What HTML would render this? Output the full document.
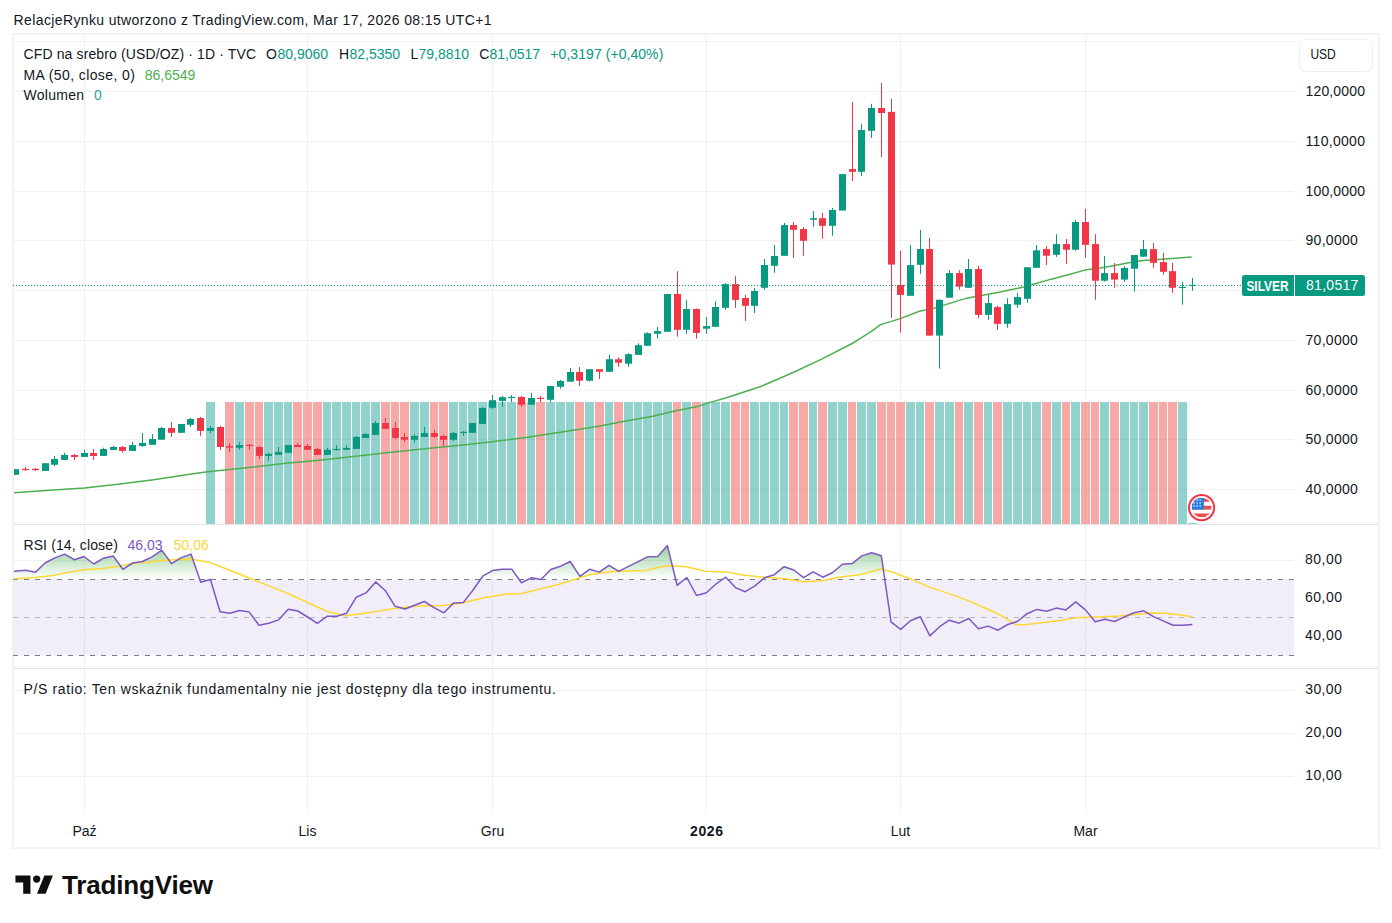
<!DOCTYPE html>
<html><head><meta charset="utf-8"><title>Chart</title>
<style>html,body{margin:0;padding:0;background:#fff;width:1392px;height:923px;overflow:hidden}</style>
</head><body>
<svg width="1392" height="923" viewBox="0 0 1392 923" style="position:absolute;left:0;top:0"><defs><clipPath id="cm"><rect x="14" y="35" width="1280" height="489"/></clipPath><clipPath id="cr"><rect x="14" y="525" width="1280" height="143"/></clipPath><clipPath id="cob"><rect x="14" y="525" width="1280" height="54.200000000000045"/></clipPath><linearGradient id="gob" gradientUnits="userSpaceOnUse" x1="0" y1="522" x2="0" y2="579.2"><stop offset="0" stop-color="#4caf50" stop-opacity="1"/><stop offset="1" stop-color="#4caf50" stop-opacity="0"/></linearGradient></defs><rect x="13" y="34" width="1366" height="814" fill="none" stroke="#f2f2f2" stroke-width="2"/><line x1="84.5" y1="35" x2="84.5" y2="813" stroke="#f0f1f3" stroke-width="1"/><line x1="307.5" y1="35" x2="307.5" y2="813" stroke="#f0f1f3" stroke-width="1"/><line x1="492.5" y1="35" x2="492.5" y2="813" stroke="#f0f1f3" stroke-width="1"/><line x1="706.5" y1="35" x2="706.5" y2="813" stroke="#f0f1f3" stroke-width="1"/><line x1="900.5" y1="35" x2="900.5" y2="813" stroke="#f0f1f3" stroke-width="1"/><line x1="1085.5" y1="35" x2="1085.5" y2="813" stroke="#f0f1f3" stroke-width="1"/><line x1="14" y1="41.5" x2="1294" y2="41.5" stroke="#f0f1f3" stroke-width="1"/><line x1="14" y1="91.5" x2="1294" y2="91.5" stroke="#f0f1f3" stroke-width="1"/><line x1="14" y1="141.5" x2="1294" y2="141.5" stroke="#f0f1f3" stroke-width="1"/><line x1="14" y1="191.5" x2="1294" y2="191.5" stroke="#f0f1f3" stroke-width="1"/><line x1="14" y1="240.5" x2="1294" y2="240.5" stroke="#f0f1f3" stroke-width="1"/><line x1="14" y1="290.5" x2="1294" y2="290.5" stroke="#f0f1f3" stroke-width="1"/><line x1="14" y1="340.5" x2="1294" y2="340.5" stroke="#f0f1f3" stroke-width="1"/><line x1="14" y1="390.5" x2="1294" y2="390.5" stroke="#f0f1f3" stroke-width="1"/><line x1="14" y1="439.5" x2="1294" y2="439.5" stroke="#f0f1f3" stroke-width="1"/><line x1="14" y1="489.5" x2="1294" y2="489.5" stroke="#f0f1f3" stroke-width="1"/><g clip-path="url(#cm)"><rect x="206" y="402" width="9" height="122" fill="rgba(38,166,154,0.5)"/><rect x="225" y="402" width="9" height="122" fill="rgba(239,83,80,0.5)"/><rect x="235" y="402" width="9" height="122" fill="rgba(38,166,154,0.5)"/><rect x="245" y="402" width="9" height="122" fill="rgba(239,83,80,0.5)"/><rect x="255" y="402" width="8" height="122" fill="rgba(239,83,80,0.5)"/><rect x="264" y="402" width="9" height="122" fill="rgba(38,166,154,0.5)"/><rect x="274" y="402" width="9" height="122" fill="rgba(38,166,154,0.5)"/><rect x="284" y="402" width="8" height="122" fill="rgba(38,166,154,0.5)"/><rect x="293" y="402" width="9" height="122" fill="rgba(239,83,80,0.5)"/><rect x="303" y="402" width="9" height="122" fill="rgba(239,83,80,0.5)"/><rect x="313" y="402" width="9" height="122" fill="rgba(239,83,80,0.5)"/><rect x="323" y="402" width="8" height="122" fill="rgba(38,166,154,0.5)"/><rect x="332" y="402" width="9" height="122" fill="rgba(38,166,154,0.5)"/><rect x="342" y="402" width="9" height="122" fill="rgba(38,166,154,0.5)"/><rect x="352" y="402" width="8" height="122" fill="rgba(38,166,154,0.5)"/><rect x="361" y="402" width="9" height="122" fill="rgba(38,166,154,0.5)"/><rect x="371" y="402" width="9" height="122" fill="rgba(38,166,154,0.5)"/><rect x="381" y="402" width="9" height="122" fill="rgba(239,83,80,0.5)"/><rect x="391" y="402" width="8" height="122" fill="rgba(239,83,80,0.5)"/><rect x="400" y="402" width="9" height="122" fill="rgba(239,83,80,0.5)"/><rect x="410" y="402" width="9" height="122" fill="rgba(38,166,154,0.5)"/><rect x="420" y="402" width="9" height="122" fill="rgba(38,166,154,0.5)"/><rect x="430" y="402" width="8" height="122" fill="rgba(239,83,80,0.5)"/><rect x="439" y="402" width="9" height="122" fill="rgba(239,83,80,0.5)"/><rect x="449" y="402" width="9" height="122" fill="rgba(38,166,154,0.5)"/><rect x="459" y="402" width="8" height="122" fill="rgba(38,166,154,0.5)"/><rect x="468" y="402" width="9" height="122" fill="rgba(38,166,154,0.5)"/><rect x="478" y="402" width="9" height="122" fill="rgba(38,166,154,0.5)"/><rect x="488" y="402" width="9" height="122" fill="rgba(38,166,154,0.5)"/><rect x="498" y="402" width="8" height="122" fill="rgba(38,166,154,0.5)"/><rect x="507" y="402" width="9" height="122" fill="rgba(38,166,154,0.5)"/><rect x="517" y="402" width="9" height="122" fill="rgba(239,83,80,0.5)"/><rect x="527" y="402" width="8" height="122" fill="rgba(38,166,154,0.5)"/><rect x="536" y="402" width="9" height="122" fill="rgba(239,83,80,0.5)"/><rect x="546" y="402" width="9" height="122" fill="rgba(38,166,154,0.5)"/><rect x="556" y="402" width="9" height="122" fill="rgba(38,166,154,0.5)"/><rect x="566" y="402" width="8" height="122" fill="rgba(38,166,154,0.5)"/><rect x="575" y="402" width="9" height="122" fill="rgba(239,83,80,0.5)"/><rect x="585" y="402" width="9" height="122" fill="rgba(38,166,154,0.5)"/><rect x="595" y="402" width="9" height="122" fill="rgba(239,83,80,0.5)"/><rect x="605" y="402" width="8" height="122" fill="rgba(38,166,154,0.5)"/><rect x="614" y="402" width="9" height="122" fill="rgba(239,83,80,0.5)"/><rect x="624" y="402" width="9" height="122" fill="rgba(38,166,154,0.5)"/><rect x="634" y="402" width="8" height="122" fill="rgba(38,166,154,0.5)"/><rect x="643" y="402" width="9" height="122" fill="rgba(38,166,154,0.5)"/><rect x="653" y="402" width="9" height="122" fill="rgba(38,166,154,0.5)"/><rect x="663" y="402" width="9" height="122" fill="rgba(38,166,154,0.5)"/><rect x="673" y="402" width="8" height="122" fill="rgba(239,83,80,0.5)"/><rect x="682" y="402" width="9" height="122" fill="rgba(38,166,154,0.5)"/><rect x="692" y="402" width="9" height="122" fill="rgba(239,83,80,0.5)"/><rect x="702" y="402" width="8" height="122" fill="rgba(38,166,154,0.5)"/><rect x="711" y="402" width="9" height="122" fill="rgba(38,166,154,0.5)"/><rect x="721" y="402" width="9" height="122" fill="rgba(38,166,154,0.5)"/><rect x="731" y="402" width="9" height="122" fill="rgba(239,83,80,0.5)"/><rect x="741" y="402" width="8" height="122" fill="rgba(239,83,80,0.5)"/><rect x="750" y="402" width="9" height="122" fill="rgba(38,166,154,0.5)"/><rect x="760" y="402" width="9" height="122" fill="rgba(38,166,154,0.5)"/><rect x="770" y="402" width="9" height="122" fill="rgba(38,166,154,0.5)"/><rect x="780" y="402" width="8" height="122" fill="rgba(38,166,154,0.5)"/><rect x="789" y="402" width="9" height="122" fill="rgba(239,83,80,0.5)"/><rect x="799" y="402" width="9" height="122" fill="rgba(239,83,80,0.5)"/><rect x="809" y="402" width="8" height="122" fill="rgba(38,166,154,0.5)"/><rect x="818" y="402" width="9" height="122" fill="rgba(239,83,80,0.5)"/><rect x="828" y="402" width="9" height="122" fill="rgba(38,166,154,0.5)"/><rect x="838" y="402" width="9" height="122" fill="rgba(38,166,154,0.5)"/><rect x="848" y="402" width="8" height="122" fill="rgba(239,83,80,0.5)"/><rect x="857" y="402" width="9" height="122" fill="rgba(38,166,154,0.5)"/><rect x="867" y="402" width="9" height="122" fill="rgba(38,166,154,0.5)"/><rect x="877" y="402" width="9" height="122" fill="rgba(239,83,80,0.5)"/><rect x="887" y="402" width="8" height="122" fill="rgba(239,83,80,0.5)"/><rect x="896" y="402" width="9" height="122" fill="rgba(239,83,80,0.5)"/><rect x="906" y="402" width="9" height="122" fill="rgba(38,166,154,0.5)"/><rect x="916" y="402" width="8" height="122" fill="rgba(38,166,154,0.5)"/><rect x="925" y="402" width="9" height="122" fill="rgba(239,83,80,0.5)"/><rect x="935" y="402" width="9" height="122" fill="rgba(38,166,154,0.5)"/><rect x="945" y="402" width="9" height="122" fill="rgba(38,166,154,0.5)"/><rect x="955" y="402" width="8" height="122" fill="rgba(239,83,80,0.5)"/><rect x="964" y="402" width="9" height="122" fill="rgba(38,166,154,0.5)"/><rect x="974" y="402" width="9" height="122" fill="rgba(239,83,80,0.5)"/><rect x="984" y="402" width="8" height="122" fill="rgba(38,166,154,0.5)"/><rect x="993" y="402" width="9" height="122" fill="rgba(239,83,80,0.5)"/><rect x="1003" y="402" width="9" height="122" fill="rgba(38,166,154,0.5)"/><rect x="1013" y="402" width="9" height="122" fill="rgba(38,166,154,0.5)"/><rect x="1023" y="402" width="8" height="122" fill="rgba(38,166,154,0.5)"/><rect x="1032" y="402" width="9" height="122" fill="rgba(38,166,154,0.5)"/><rect x="1042" y="402" width="9" height="122" fill="rgba(239,83,80,0.5)"/><rect x="1052" y="402" width="9" height="122" fill="rgba(38,166,154,0.5)"/><rect x="1062" y="402" width="8" height="122" fill="rgba(239,83,80,0.5)"/><rect x="1071" y="402" width="9" height="122" fill="rgba(38,166,154,0.5)"/><rect x="1081" y="402" width="9" height="122" fill="rgba(239,83,80,0.5)"/><rect x="1091" y="402" width="8" height="122" fill="rgba(239,83,80,0.5)"/><rect x="1100" y="402" width="9" height="122" fill="rgba(38,166,154,0.5)"/><rect x="1110" y="402" width="9" height="122" fill="rgba(239,83,80,0.5)"/><rect x="1120" y="402" width="9" height="122" fill="rgba(38,166,154,0.5)"/><rect x="1130" y="402" width="8" height="122" fill="rgba(38,166,154,0.5)"/><rect x="1139" y="402" width="9" height="122" fill="rgba(38,166,154,0.5)"/><rect x="1149" y="402" width="9" height="122" fill="rgba(239,83,80,0.5)"/><rect x="1159" y="402" width="8" height="122" fill="rgba(239,83,80,0.5)"/><rect x="1168" y="402" width="9" height="122" fill="rgba(239,83,80,0.5)"/><rect x="1178" y="402" width="9" height="122" fill="rgba(38,166,154,0.5)"/><rect x="1188" y="523" width="9" height="1" fill="rgba(38,166,154,0.5)"/></g><g clip-path="url(#cm)"><polyline fill="none" stroke="#4caf50" stroke-width="1.5" stroke-linejoin="round" points="13.6,492.9 45.9,490.6 84.5,487.9 117.8,484.3 153.7,479.8 189.6,474.2 207.6,471.7 234.5,469 260,466.3 285.9,463.3 321.8,460 357.8,455.9 393.7,451.9 429.6,448.3 465.5,444.8 490,442 525.9,437.5 561.8,432.1 600,426 623,421.4 651.7,416.6 674.7,411 697.7,406.4 710.3,402.4 726.4,397.8 760,386.7 773.1,381.2 794.7,371.7 821.6,359.1 852.1,343.5 860,338.7 872.1,330.9 880.6,324.6 900.2,318.6 919.3,311.3 925.8,310.1 933,308.6 943.1,305.4 965.2,298.6 974.7,296.8 988.3,294.3 1000,292.1 1023.7,287 1031.6,284.8 1050.3,279.4 1068.2,274.8 1084.8,270.1 1092.7,269 1100,268 1114.4,265.5 1130.2,262.6 1143.1,260.4 1157.5,259.4 1171.8,258.6 1191.6,257.1"/></g><g clip-path="url(#cm)"><rect x="15" y="469.2" width="1" height="5.6" fill="#089981"/><rect x="12" y="469.2" width="7" height="5.6" fill="#089981"/><rect x="25" y="466.9" width="1" height="4.1" fill="#f23645"/><rect x="22" y="468.8" width="7" height="1.3" fill="#f23645"/><rect x="35" y="468.0" width="1" height="3.0" fill="#f23645"/><rect x="32" y="468.8" width="7" height="1.3" fill="#f23645"/><rect x="45" y="463.2" width="1" height="7.8" fill="#089981"/><rect x="42" y="463.2" width="7" height="7.8" fill="#089981"/><rect x="54" y="456.0" width="1" height="10.0" fill="#089981"/><rect x="51" y="459.0" width="7" height="5.7" fill="#089981"/><rect x="64" y="452.8" width="1" height="7.1" fill="#089981"/><rect x="61" y="455.0" width="7" height="4.9" fill="#089981"/><rect x="74" y="454.0" width="1" height="6.0" fill="#f23645"/><rect x="71" y="455.0" width="7" height="2.0" fill="#f23645"/><rect x="84" y="449.8" width="1" height="7.1" fill="#089981"/><rect x="81" y="453.0" width="7" height="3.9" fill="#089981"/><rect x="93" y="449.0" width="1" height="11.0" fill="#f23645"/><rect x="90" y="453.0" width="7" height="3.0" fill="#f23645"/><rect x="103" y="447.7" width="1" height="8.2" fill="#089981"/><rect x="100" y="449.0" width="7" height="6.9" fill="#089981"/><rect x="113" y="446.0" width="1" height="4.0" fill="#089981"/><rect x="110" y="447.0" width="7" height="3.0" fill="#089981"/><rect x="122" y="446.0" width="1" height="6.8" fill="#f23645"/><rect x="119" y="447.0" width="7" height="3.9" fill="#f23645"/><rect x="132" y="441.9" width="1" height="9.0" fill="#089981"/><rect x="129" y="445.1" width="7" height="5.8" fill="#089981"/><rect x="142" y="433.0" width="1" height="14.0" fill="#089981"/><rect x="139" y="442.9" width="7" height="3.1" fill="#089981"/><rect x="152" y="434.0" width="1" height="10.8" fill="#089981"/><rect x="149" y="439.0" width="7" height="5.8" fill="#089981"/><rect x="161" y="427.0" width="1" height="12.7" fill="#089981"/><rect x="158" y="428.0" width="7" height="11.7" fill="#089981"/><rect x="171" y="422.0" width="1" height="14.9" fill="#f23645"/><rect x="168" y="428.0" width="7" height="4.8" fill="#f23645"/><rect x="181" y="424.0" width="1" height="8.8" fill="#089981"/><rect x="178" y="424.0" width="7" height="8.8" fill="#089981"/><rect x="190" y="418.0" width="1" height="9.0" fill="#089981"/><rect x="187" y="419.0" width="7" height="5.8" fill="#089981"/><rect x="200" y="417.0" width="1" height="18.9" fill="#f23645"/><rect x="197" y="418.0" width="7" height="12.9" fill="#f23645"/><rect x="210" y="426.0" width="1" height="7.0" fill="#089981"/><rect x="207" y="428.0" width="7" height="2.9" fill="#089981"/><rect x="220" y="426.0" width="1" height="23.8" fill="#f23645"/><rect x="217" y="427.0" width="7" height="20.0" fill="#f23645"/><rect x="229" y="443.0" width="1" height="9.0" fill="#f23645"/><rect x="226" y="446.2" width="7" height="1.5" fill="#f23645"/><rect x="239" y="442.0" width="1" height="7.8" fill="#089981"/><rect x="236" y="445.0" width="7" height="2.8" fill="#089981"/><rect x="249" y="444.0" width="1" height="5.8" fill="#f23645"/><rect x="246" y="444.8" width="7" height="1.2" fill="#f23645"/><rect x="259" y="446.1" width="1" height="12.8" fill="#f23645"/><rect x="256" y="447.0" width="7" height="8.9" fill="#f23645"/><rect x="268" y="453.0" width="1" height="7.8" fill="#089981"/><rect x="265" y="453.9" width="7" height="2.0" fill="#089981"/><rect x="278" y="447.0" width="1" height="7.9" fill="#089981"/><rect x="275" y="451.9" width="7" height="3.0" fill="#089981"/><rect x="288" y="445.0" width="1" height="7.8" fill="#089981"/><rect x="285" y="445.0" width="7" height="7.8" fill="#089981"/><rect x="297" y="443.0" width="1" height="4.0" fill="#f23645"/><rect x="294" y="445.0" width="7" height="2.0" fill="#f23645"/><rect x="307" y="444.0" width="1" height="5.8" fill="#f23645"/><rect x="304" y="446.0" width="7" height="3.8" fill="#f23645"/><rect x="317" y="448.0" width="1" height="6.9" fill="#f23645"/><rect x="314" y="449.0" width="7" height="5.9" fill="#f23645"/><rect x="327" y="447.8" width="1" height="7.1" fill="#089981"/><rect x="324" y="449.8" width="7" height="5.1" fill="#089981"/><rect x="336" y="445.0" width="1" height="5.9" fill="#089981"/><rect x="333" y="448.9" width="7" height="1.2" fill="#089981"/><rect x="346" y="445.0" width="1" height="4.8" fill="#089981"/><rect x="343" y="448.0" width="7" height="1.8" fill="#089981"/><rect x="356" y="436.0" width="1" height="13.0" fill="#089981"/><rect x="353" y="437.0" width="7" height="12.0" fill="#089981"/><rect x="365" y="433.0" width="1" height="4.9" fill="#089981"/><rect x="362" y="434.0" width="7" height="3.9" fill="#089981"/><rect x="375" y="421.0" width="1" height="13.9" fill="#089981"/><rect x="372" y="423.0" width="7" height="11.9" fill="#089981"/><rect x="385" y="418.0" width="1" height="10.9" fill="#f23645"/><rect x="382" y="423.0" width="7" height="5.9" fill="#f23645"/><rect x="395" y="422.0" width="1" height="17.0" fill="#f23645"/><rect x="392" y="428.0" width="7" height="9.9" fill="#f23645"/><rect x="404" y="433.0" width="1" height="9.0" fill="#f23645"/><rect x="401" y="437.0" width="7" height="2.8" fill="#f23645"/><rect x="414" y="434.0" width="1" height="8.8" fill="#089981"/><rect x="411" y="436.0" width="7" height="3.8" fill="#089981"/><rect x="424" y="427.0" width="1" height="9.9" fill="#089981"/><rect x="421" y="433.0" width="7" height="3.9" fill="#089981"/><rect x="434" y="430.0" width="1" height="7.9" fill="#f23645"/><rect x="431" y="433.0" width="7" height="3.9" fill="#f23645"/><rect x="443" y="434.9" width="1" height="11.0" fill="#f23645"/><rect x="440" y="436.0" width="7" height="3.8" fill="#f23645"/><rect x="453" y="432.0" width="1" height="9.0" fill="#089981"/><rect x="450" y="433.0" width="7" height="6.8" fill="#089981"/><rect x="463" y="431.0" width="1" height="4.8" fill="#089981"/><rect x="460" y="431.8" width="7" height="1.2" fill="#089981"/><rect x="472" y="423.0" width="1" height="9.8" fill="#089981"/><rect x="469" y="423.0" width="7" height="9.8" fill="#089981"/><rect x="482" y="406.9" width="1" height="17.0" fill="#089981"/><rect x="479" y="408.0" width="7" height="15.9" fill="#089981"/><rect x="492" y="395.0" width="1" height="13.8" fill="#089981"/><rect x="489" y="400.2" width="7" height="7.6" fill="#089981"/><rect x="502" y="396.0" width="1" height="10.9" fill="#089981"/><rect x="499" y="397.2" width="7" height="3.7" fill="#089981"/><rect x="511" y="395.0" width="1" height="7.0" fill="#089981"/><rect x="508" y="396.9" width="7" height="1.2" fill="#089981"/><rect x="521" y="396.0" width="1" height="10.9" fill="#f23645"/><rect x="518" y="397.0" width="7" height="7.7" fill="#f23645"/><rect x="531" y="393.0" width="1" height="11.7" fill="#089981"/><rect x="528" y="398.0" width="7" height="6.7" fill="#089981"/><rect x="540" y="396.0" width="1" height="6.0" fill="#f23645"/><rect x="537" y="397.8" width="7" height="1.2" fill="#f23645"/><rect x="550" y="386.0" width="1" height="16.0" fill="#089981"/><rect x="547" y="386.0" width="7" height="13.8" fill="#089981"/><rect x="560" y="380.0" width="1" height="8.7" fill="#089981"/><rect x="557" y="381.0" width="7" height="5.8" fill="#089981"/><rect x="570" y="368.0" width="1" height="13.7" fill="#089981"/><rect x="567" y="372.0" width="7" height="9.7" fill="#089981"/><rect x="579" y="367.0" width="1" height="18.9" fill="#f23645"/><rect x="576" y="372.0" width="7" height="8.7" fill="#f23645"/><rect x="589" y="369.2" width="1" height="12.5" fill="#089981"/><rect x="586" y="369.2" width="7" height="11.5" fill="#089981"/><rect x="599" y="369.2" width="1" height="9.8" fill="#f23645"/><rect x="596" y="369.2" width="7" height="2.6" fill="#f23645"/><rect x="609" y="355.0" width="1" height="16.8" fill="#089981"/><rect x="606" y="359.2" width="7" height="12.6" fill="#089981"/><rect x="618" y="357.2" width="1" height="9.6" fill="#f23645"/><rect x="615" y="359.2" width="7" height="3.5" fill="#f23645"/><rect x="628" y="353.1" width="1" height="13.7" fill="#089981"/><rect x="625" y="354.2" width="7" height="9.5" fill="#089981"/><rect x="638" y="343.2" width="1" height="11.7" fill="#089981"/><rect x="635" y="345.2" width="7" height="9.7" fill="#089981"/><rect x="647" y="332.2" width="1" height="13.6" fill="#089981"/><rect x="644" y="333.2" width="7" height="12.6" fill="#089981"/><rect x="657" y="327.0" width="1" height="11.7" fill="#089981"/><rect x="654" y="331.1" width="7" height="2.7" fill="#089981"/><rect x="667" y="294.0" width="1" height="37.8" fill="#089981"/><rect x="664" y="294.0" width="7" height="37.8" fill="#089981"/><rect x="677" y="271.1" width="1" height="65.6" fill="#f23645"/><rect x="674" y="294.0" width="7" height="35.8" fill="#f23645"/><rect x="686" y="300.1" width="1" height="33.8" fill="#089981"/><rect x="683" y="309.0" width="7" height="20.8" fill="#089981"/><rect x="696" y="308.4" width="1" height="30.3" fill="#f23645"/><rect x="693" y="309.0" width="7" height="23.9" fill="#f23645"/><rect x="706" y="317.0" width="1" height="16.9" fill="#089981"/><rect x="703" y="326.1" width="7" height="2.6" fill="#089981"/><rect x="715" y="301.2" width="1" height="25.6" fill="#089981"/><rect x="712" y="307.0" width="7" height="19.8" fill="#089981"/><rect x="725" y="283.2" width="1" height="26.6" fill="#089981"/><rect x="722" y="284.1" width="7" height="23.7" fill="#089981"/><rect x="735" y="275.9" width="1" height="32.0" fill="#f23645"/><rect x="732" y="284.1" width="7" height="15.8" fill="#f23645"/><rect x="745" y="294.9" width="1" height="26.0" fill="#f23645"/><rect x="742" y="298.0" width="7" height="7.8" fill="#f23645"/><rect x="754" y="288.0" width="1" height="25.0" fill="#089981"/><rect x="751" y="291.0" width="7" height="14.8" fill="#089981"/><rect x="764" y="259.0" width="1" height="30.7" fill="#089981"/><rect x="761" y="265.0" width="7" height="22.8" fill="#089981"/><rect x="774" y="245.0" width="1" height="27.8" fill="#089981"/><rect x="771" y="256.0" width="7" height="9.8" fill="#089981"/><rect x="784" y="223.0" width="1" height="32.8" fill="#089981"/><rect x="781" y="225.1" width="7" height="30.7" fill="#089981"/><rect x="793" y="222.0" width="1" height="36.0" fill="#f23645"/><rect x="790" y="225.1" width="7" height="4.7" fill="#f23645"/><rect x="803" y="227.1" width="1" height="28.7" fill="#f23645"/><rect x="800" y="229.0" width="7" height="11.8" fill="#f23645"/><rect x="813" y="211.0" width="1" height="15.9" fill="#089981"/><rect x="810" y="218.2" width="7" height="1.6" fill="#089981"/><rect x="822" y="213.0" width="1" height="25.8" fill="#f23645"/><rect x="819" y="218.2" width="7" height="7.6" fill="#f23645"/><rect x="832" y="207.9" width="1" height="27.9" fill="#089981"/><rect x="829" y="210.0" width="7" height="15.8" fill="#089981"/><rect x="842" y="174.1" width="1" height="36.4" fill="#089981"/><rect x="839" y="174.1" width="7" height="36.4" fill="#089981"/><rect x="852" y="102.0" width="1" height="78.9" fill="#f23645"/><rect x="849" y="169.1" width="7" height="2.7" fill="#f23645"/><rect x="861" y="123.9" width="1" height="52.0" fill="#089981"/><rect x="858" y="130.0" width="7" height="41.8" fill="#089981"/><rect x="871" y="103.8" width="1" height="34.2" fill="#089981"/><rect x="868" y="108.0" width="7" height="22.8" fill="#089981"/><rect x="881" y="82.9" width="1" height="74.1" fill="#f23645"/><rect x="878" y="108.0" width="7" height="5.0" fill="#f23645"/><rect x="891" y="98.8" width="1" height="219.0" fill="#f23645"/><rect x="888" y="111.9" width="7" height="152.7" fill="#f23645"/><rect x="900" y="250.7" width="1" height="82.0" fill="#f23645"/><rect x="897" y="284.9" width="7" height="10.0" fill="#f23645"/><rect x="910" y="245.0" width="1" height="50.8" fill="#089981"/><rect x="907" y="265.1" width="7" height="30.7" fill="#089981"/><rect x="920" y="229.9" width="1" height="43.9" fill="#089981"/><rect x="917" y="249.0" width="7" height="15.8" fill="#089981"/><rect x="929" y="237.7" width="1" height="97.9" fill="#f23645"/><rect x="926" y="249.0" width="7" height="86.6" fill="#f23645"/><rect x="939" y="299.3" width="1" height="69.3" fill="#089981"/><rect x="936" y="299.8" width="7" height="35.8" fill="#089981"/><rect x="949" y="270.2" width="1" height="27.5" fill="#089981"/><rect x="946" y="273.1" width="7" height="24.6" fill="#089981"/><rect x="959" y="270.2" width="1" height="19.4" fill="#f23645"/><rect x="956" y="273.1" width="7" height="13.5" fill="#f23645"/><rect x="968" y="259.0" width="1" height="28.8" fill="#089981"/><rect x="965" y="269.0" width="7" height="18.8" fill="#089981"/><rect x="978" y="266.0" width="1" height="52.0" fill="#f23645"/><rect x="975" y="269.0" width="7" height="45.9" fill="#f23645"/><rect x="988" y="294.4" width="1" height="25.6" fill="#089981"/><rect x="985" y="303.1" width="7" height="11.8" fill="#089981"/><rect x="997" y="305.9" width="1" height="23.9" fill="#f23645"/><rect x="994" y="307.1" width="7" height="16.7" fill="#f23645"/><rect x="1007" y="298.2" width="1" height="29.5" fill="#089981"/><rect x="1004" y="304.1" width="7" height="19.7" fill="#089981"/><rect x="1017" y="293.2" width="1" height="14.5" fill="#089981"/><rect x="1014" y="297.1" width="7" height="7.6" fill="#089981"/><rect x="1027" y="267.2" width="1" height="35.5" fill="#089981"/><rect x="1024" y="267.2" width="7" height="31.6" fill="#089981"/><rect x="1036" y="245.1" width="1" height="22.7" fill="#089981"/><rect x="1033" y="250.3" width="7" height="17.5" fill="#089981"/><rect x="1046" y="246.1" width="1" height="18.9" fill="#f23645"/><rect x="1043" y="249.1" width="7" height="6.6" fill="#f23645"/><rect x="1056" y="234.2" width="1" height="22.7" fill="#089981"/><rect x="1053" y="244.1" width="7" height="10.7" fill="#089981"/><rect x="1066" y="239.0" width="1" height="24.8" fill="#f23645"/><rect x="1063" y="244.1" width="7" height="5.6" fill="#f23645"/><rect x="1075" y="220.0" width="1" height="30.7" fill="#089981"/><rect x="1072" y="222.0" width="7" height="27.7" fill="#089981"/><rect x="1085" y="209.0" width="1" height="48.8" fill="#f23645"/><rect x="1082" y="222.0" width="7" height="22.8" fill="#f23645"/><rect x="1095" y="234.2" width="1" height="65.6" fill="#f23645"/><rect x="1092" y="244.1" width="7" height="36.6" fill="#f23645"/><rect x="1104" y="256.0" width="1" height="25.7" fill="#089981"/><rect x="1101" y="273.1" width="7" height="7.6" fill="#089981"/><rect x="1114" y="263.0" width="1" height="24.8" fill="#f23645"/><rect x="1111" y="273.1" width="7" height="6.5" fill="#f23645"/><rect x="1124" y="266.3" width="1" height="15.6" fill="#089981"/><rect x="1121" y="267.9" width="7" height="11.7" fill="#089981"/><rect x="1134" y="255.0" width="1" height="36.7" fill="#089981"/><rect x="1131" y="255.0" width="7" height="13.7" fill="#089981"/><rect x="1143" y="240.0" width="1" height="16.7" fill="#089981"/><rect x="1140" y="249.1" width="7" height="7.6" fill="#089981"/><rect x="1153" y="243.0" width="1" height="24.9" fill="#f23645"/><rect x="1150" y="249.1" width="7" height="13.7" fill="#f23645"/><rect x="1163" y="253.0" width="1" height="21.8" fill="#f23645"/><rect x="1160" y="262.1" width="7" height="9.7" fill="#f23645"/><rect x="1172" y="262.9" width="1" height="29.9" fill="#f23645"/><rect x="1169" y="271.2" width="7" height="16.6" fill="#f23645"/><rect x="1182" y="282.0" width="1" height="22.7" fill="#089981"/><rect x="1179" y="286.8" width="7" height="1.2" fill="#089981"/><rect x="1192" y="277.9" width="1" height="12.8" fill="#089981"/><rect x="1189" y="284.8" width="7" height="1.2" fill="#089981"/></g><line x1="13" y1="285.5" x2="1242" y2="285.5" stroke="#089981" stroke-width="1" stroke-dasharray="1 2"/><rect x="14" y="524" width="1364" height="1" fill="#e0e3eb"/><rect x="14" y="668" width="1364" height="1" fill="#e0e3eb"/><rect x="14" y="579.2" width="1280" height="76.2" fill="#7e57c2" fill-opacity="0.1"/><line x1="14" y1="560.5" x2="1294" y2="560.5" stroke="#f0f1f3" stroke-width="1"/><line x1="14" y1="598.5" x2="1294" y2="598.5" stroke="#f0f1f3" stroke-width="1"/><line x1="14" y1="636.5" x2="1294" y2="636.5" stroke="#f0f1f3" stroke-width="1"/><line x1="13" y1="579.5" x2="1294" y2="579.5" stroke="#787b86" stroke-width="1" stroke-dasharray="5 6"/><line x1="13" y1="617.5" x2="1294" y2="617.5" stroke="#787b86" stroke-opacity="0.5" stroke-width="1" stroke-dasharray="5 6"/><line x1="13" y1="655.5" x2="1294" y2="655.5" stroke="#787b86" stroke-width="1" stroke-dasharray="5 6"/><g clip-path="url(#cob)"><path d="M13.0,579.2 L13.0,571.4 L25.7,570.3 L35.4,572.3 L45.1,563.0 L54.9,557.9 L64.6,554.1 L74.3,559.7 L84.0,556.5 L93.7,564.0 L103.5,558.2 L113.2,556.0 L122.9,569.3 L132.6,563.0 L142.4,561.5 L152.1,556.8 L161.8,550.1 L171.5,563.6 L181.3,557.6 L191.0,554.1 L200.7,582.3 L210.4,579.5 L220.1,611.7 L229.9,613.2 L239.6,610.5 L249.3,612.1 L259.0,625.3 L268.8,623.2 L278.5,619.9 L288.2,609.2 L297.9,611.0 L307.6,617.0 L317.4,623.4 L327.1,616.3 L336.8,616.3 L346.5,613.3 L356.3,597.2 L366.0,592.9 L375.7,581.9 L385.4,590.7 L395.1,606.3 L404.9,609.0 L414.6,605.3 L424.3,601.5 L434.0,607.7 L443.8,612.8 L453.5,603.1 L463.2,602.6 L472.9,590.2 L482.7,576.2 L492.4,570.6 L502.1,569.2 L511.8,569.2 L521.5,582.8 L531.3,577.8 L541.0,579.4 L550.7,569.5 L560.4,566.3 L570.2,561.5 L579.9,576.4 L589.6,569.3 L599.3,572.1 L609.0,565.3 L618.8,571.3 L628.5,566.4 L638.2,561.6 L647.9,556.7 L657.7,556.4 L667.4,545.6 L677.1,585.3 L686.8,577.5 L696.5,595.5 L706.3,592.8 L716.0,584.0 L725.7,577.2 L735.4,587.6 L745.2,591.7 L754.9,585.8 L764.6,577.7 L774.3,574.7 L784.1,566.7 L793.8,570.0 L803.5,577.7 L813.2,571.8 L822.9,577.2 L832.7,572.5 L842.4,564.2 L852.1,563.6 L861.8,555.9 L871.6,552.8 L881.3,555.7 L891.0,621.8 L900.7,629.4 L910.4,620.7 L920.2,616.7 L929.9,635.9 L939.6,626.7 L949.3,620.2 L959.1,623.2 L968.8,618.5 L978.5,628.8 L988.2,626.1 L998.0,630.2 L1007.7,624.5 L1017.4,621.5 L1027.1,613.7 L1036.8,609.4 L1046.6,611.3 L1056.3,608.1 L1066.0,609.9 L1075.7,601.9 L1085.5,609.9 L1095.2,621.8 L1104.9,619.3 L1114.6,621.5 L1124.3,616.9 L1134.1,612.7 L1143.8,610.8 L1153.5,616.6 L1163.2,620.9 L1173.0,625.3 L1182.7,625.2 L1192.4,624.5 L1192.4,579.2 Z" fill="url(#gob)"/></g><g clip-path="url(#cr)"><polyline fill="none" stroke="#fdd835" stroke-width="1.5" stroke-linejoin="round" points="13.3,578.7 34.9,577.4 53.3,575.4 64.2,573 83.7,569.8 102.1,568.4 118.3,566.5 134.6,563 150,562.2 160.8,560.4 182.5,559.3 193.3,559.5 209.6,562.4 225.8,568.7 252.9,579.5 280,590.4 290,594.3 300,599 326.6,611.2 345.5,615.8 365.4,613.3 397.8,608 419.3,606.1 442.9,605.5 462.3,602.9 483.9,597.7 505.4,594.3 521.6,593.4 537.8,589.6 559.3,584.2 580,577.8 591.6,574.3 613.1,571.5 645.4,570.4 667,565.6 686.4,566.7 705.2,571.3 726.2,572.1 742.3,575 763.9,577.2 785.4,578.8 803.2,581.8 822.1,580.7 839.3,577.2 860.8,574.5 871.7,571.4 881.4,569 893.3,572.5 909.6,578.5 929.1,587.1 947.5,593.1 967,600.1 987.6,609.3 1000,615 1015.9,624.7 1026.6,624.5 1054.7,621.3 1076.2,617.8 1097.8,616.9 1119.3,615.9 1130,615.1 1151.6,613 1165.9,613.3 1180.3,615.1 1191.8,616.7"/><polyline fill="none" stroke="#7e57c2" stroke-width="1.5" stroke-linejoin="round" points="13.0,571.4 25.7,570.3 35.4,572.3 45.1,563.0 54.9,557.9 64.6,554.1 74.3,559.7 84.0,556.5 93.7,564.0 103.5,558.2 113.2,556.0 122.9,569.3 132.6,563.0 142.4,561.5 152.1,556.8 161.8,550.1 171.5,563.6 181.3,557.6 191.0,554.1 200.7,582.3 210.4,579.5 220.1,611.7 229.9,613.2 239.6,610.5 249.3,612.1 259.0,625.3 268.8,623.2 278.5,619.9 288.2,609.2 297.9,611.0 307.6,617.0 317.4,623.4 327.1,616.3 336.8,616.3 346.5,613.3 356.3,597.2 366.0,592.9 375.7,581.9 385.4,590.7 395.1,606.3 404.9,609.0 414.6,605.3 424.3,601.5 434.0,607.7 443.8,612.8 453.5,603.1 463.2,602.6 472.9,590.2 482.7,576.2 492.4,570.6 502.1,569.2 511.8,569.2 521.5,582.8 531.3,577.8 541.0,579.4 550.7,569.5 560.4,566.3 570.2,561.5 579.9,576.4 589.6,569.3 599.3,572.1 609.0,565.3 618.8,571.3 628.5,566.4 638.2,561.6 647.9,556.7 657.7,556.4 667.4,545.6 677.1,585.3 686.8,577.5 696.5,595.5 706.3,592.8 716.0,584.0 725.7,577.2 735.4,587.6 745.2,591.7 754.9,585.8 764.6,577.7 774.3,574.7 784.1,566.7 793.8,570.0 803.5,577.7 813.2,571.8 822.9,577.2 832.7,572.5 842.4,564.2 852.1,563.6 861.8,555.9 871.6,552.8 881.3,555.7 891.0,621.8 900.7,629.4 910.4,620.7 920.2,616.7 929.9,635.9 939.6,626.7 949.3,620.2 959.1,623.2 968.8,618.5 978.5,628.8 988.2,626.1 998.0,630.2 1007.7,624.5 1017.4,621.5 1027.1,613.7 1036.8,609.4 1046.6,611.3 1056.3,608.1 1066.0,609.9 1075.7,601.9 1085.5,609.9 1095.2,621.8 1104.9,619.3 1114.6,621.5 1124.3,616.9 1134.1,612.7 1143.8,610.8 1153.5,616.6 1163.2,620.9 1173.0,625.3 1182.7,625.2 1192.4,624.5"/></g><line x1="14" y1="690.5" x2="1294" y2="690.5" stroke="#f0f1f3" stroke-width="1"/><line x1="14" y1="733.5" x2="1294" y2="733.5" stroke="#f0f1f3" stroke-width="1"/><line x1="14" y1="776.5" x2="1294" y2="776.5" stroke="#f0f1f3" stroke-width="1"/><rect x="1242" y="275" width="123" height="21" rx="2.5" fill="#089981"/><rect x="1294" y="275" width="1" height="21" fill="#ffffff"/><rect x="1299.5" y="39.5" width="73" height="32" rx="6" fill="#fff" stroke="#eeeff2" stroke-width="1"/><circle cx="1201.6" cy="507.6" r="12.6" fill="#fff" stroke="#f23645" stroke-width="2"/><clipPath id="fc"><circle cx="1201.6" cy="507.6" r="9.9"/></clipPath><g clip-path="url(#fc)"><rect x="1191.6" y="497.6" width="20" height="20" fill="#fff"/><rect x="1191.6" y="497.9" width="20" height="3.9" fill="#f04e4e"/><rect x="1191.6" y="505.7" width="20" height="3.9" fill="#f04e4e"/><rect x="1191.6" y="513.5" width="20" height="3.9" fill="#f04e4e"/><rect x="1191.6" y="497.6" width="12.3" height="12" fill="#2a7de1"/><circle cx="1194.1" cy="500.0" r="0.7" fill="#fff"/><circle cx="1197.1" cy="500.0" r="0.7" fill="#fff"/><circle cx="1200.1" cy="500.0" r="0.7" fill="#fff"/><circle cx="1194.1" cy="503.0" r="0.7" fill="#fff"/><circle cx="1197.1" cy="503.0" r="0.7" fill="#fff"/><circle cx="1200.1" cy="503.0" r="0.7" fill="#fff"/><circle cx="1194.1" cy="506.0" r="0.7" fill="#fff"/><circle cx="1197.1" cy="506.0" r="0.7" fill="#fff"/><circle cx="1200.1" cy="506.0" r="0.7" fill="#fff"/></g><path d="M15.45,875.5 H30.45 V893.8 H23.2 V882.4 H15.45 Z" fill="#0f0f0f"/><circle cx="36.65" cy="879.1" r="3.6" fill="#0f0f0f"/><path d="M44.4,875.5 L52.9,875.5 L45.6,893.8 L37,893.8 Z" fill="#0f0f0f"/><text x="13.6" y="25" font-family='"Liberation Sans", sans-serif' font-size="14" fill="#131722" font-weight="400" text-anchor="start" textLength="478" lengthAdjust="spacing">RelacjeRynku utworzono z TradingView.com, Mar 17, 2026 08:15 UTC+1</text><text x="23.5" y="59" font-family='"Liberation Sans", sans-serif' font-size="14" fill="#131722" font-weight="400" text-anchor="start" textLength="232.5" lengthAdjust="spacing">CFD na srebro (USD/OZ) · 1D · TVC</text><text x="266.1" y="59" font-family='"Liberation Sans", sans-serif' font-size="14" fill="#131722" font-weight="400" text-anchor="start">O</text><text x="277.5" y="59" font-family='"Liberation Sans", sans-serif' font-size="14" fill="#089981" font-weight="400" text-anchor="start">80,9060</text><text x="339" y="59" font-family='"Liberation Sans", sans-serif' font-size="14" fill="#131722" font-weight="400" text-anchor="start">H</text><text x="349.5" y="59" font-family='"Liberation Sans", sans-serif' font-size="14" fill="#089981" font-weight="400" text-anchor="start">82,5350</text><text x="410.6" y="59" font-family='"Liberation Sans", sans-serif' font-size="14" fill="#131722" font-weight="400" text-anchor="start">L</text><text x="418.5" y="59" font-family='"Liberation Sans", sans-serif' font-size="14" fill="#089981" font-weight="400" text-anchor="start">79,8810</text><text x="479.2" y="59" font-family='"Liberation Sans", sans-serif' font-size="14" fill="#131722" font-weight="400" text-anchor="start">C</text><text x="489.5" y="59" font-family='"Liberation Sans", sans-serif' font-size="14" fill="#089981" font-weight="400" text-anchor="start">81,0517</text><text x="550.3" y="59" font-family='"Liberation Sans", sans-serif' font-size="14" fill="#089981" font-weight="400" text-anchor="start" textLength="113" lengthAdjust="spacing">+0,3197 (+0,40%)</text><text x="23.5" y="79.6" font-family='"Liberation Sans", sans-serif' font-size="14" fill="#131722" font-weight="400" text-anchor="start" textLength="111.3" lengthAdjust="spacing">MA (50, close, 0)</text><text x="144.7" y="79.6" font-family='"Liberation Sans", sans-serif' font-size="14" fill="#4caf50" font-weight="400" text-anchor="start">86,6549</text><text x="23.5" y="100.3" font-family='"Liberation Sans", sans-serif' font-size="14" fill="#131722" font-weight="400" text-anchor="start" textLength="60.5" lengthAdjust="spacing">Wolumen</text><text x="93.9" y="100.3" font-family='"Liberation Sans", sans-serif' font-size="14" fill="#26a69a" font-weight="400" text-anchor="start">0</text><text x="0" y="0" font-family='"Liberation Sans", sans-serif' font-size="14" fill="#131722" transform="translate(1310.4,59.2) scale(0.86,1)">USD</text><text x="1305.5" y="95.8" font-family='"Liberation Sans", sans-serif' font-size="14" fill="#131722" font-weight="400" text-anchor="start" textLength="59.5" lengthAdjust="spacing">120,0000</text><text x="1305.5" y="145.8" font-family='"Liberation Sans", sans-serif' font-size="14" fill="#131722" font-weight="400" text-anchor="start" textLength="59.5" lengthAdjust="spacing">110,0000</text><text x="1305.5" y="195.8" font-family='"Liberation Sans", sans-serif' font-size="14" fill="#131722" font-weight="400" text-anchor="start" textLength="59.5" lengthAdjust="spacing">100,0000</text><text x="1305.5" y="244.8" font-family='"Liberation Sans", sans-serif' font-size="14" fill="#131722" font-weight="400" text-anchor="start" textLength="52.4" lengthAdjust="spacing">90,0000</text><text x="1305.5" y="344.8" font-family='"Liberation Sans", sans-serif' font-size="14" fill="#131722" font-weight="400" text-anchor="start" textLength="52.4" lengthAdjust="spacing">70,0000</text><text x="1305.5" y="394.8" font-family='"Liberation Sans", sans-serif' font-size="14" fill="#131722" font-weight="400" text-anchor="start" textLength="52.4" lengthAdjust="spacing">60,0000</text><text x="1305.5" y="443.8" font-family='"Liberation Sans", sans-serif' font-size="14" fill="#131722" font-weight="400" text-anchor="start" textLength="52.4" lengthAdjust="spacing">50,0000</text><text x="1305.5" y="493.8" font-family='"Liberation Sans", sans-serif' font-size="14" fill="#131722" font-weight="400" text-anchor="start" textLength="52.4" lengthAdjust="spacing">40,0000</text><text x="0" y="0" font-family='"Liberation Sans", sans-serif' font-size="15" fill="#fff" font-weight="700" transform="translate(1246.4,291) scale(0.795,1)">SILVER</text><text x="1306" y="290" font-family='"Liberation Sans", sans-serif' font-size="14" fill="#fff" font-weight="400" text-anchor="start" textLength="52.4" lengthAdjust="spacing">81,0517</text><text x="23.4" y="550" font-family='"Liberation Sans", sans-serif' font-size="14" fill="#131722" font-weight="400" text-anchor="start" textLength="94.4" lengthAdjust="spacing">RSI (14, close)</text><text x="127.5" y="550" font-family='"Liberation Sans", sans-serif' font-size="14" fill="#7e57c2" font-weight="400" text-anchor="start">46,03</text><text x="173.8" y="550" font-family='"Liberation Sans", sans-serif' font-size="14" fill="#fdd835" font-weight="400" text-anchor="start">50,06</text><text x="1305" y="564.3" font-family='"Liberation Sans", sans-serif' font-size="14" fill="#131722" font-weight="400" text-anchor="start" textLength="37" lengthAdjust="spacing">80,00</text><text x="1305" y="602.4" font-family='"Liberation Sans", sans-serif' font-size="14" fill="#131722" font-weight="400" text-anchor="start" textLength="37" lengthAdjust="spacing">60,00</text><text x="1305" y="640.4" font-family='"Liberation Sans", sans-serif' font-size="14" fill="#131722" font-weight="400" text-anchor="start" textLength="37" lengthAdjust="spacing">40,00</text><text x="23.4" y="694" font-family='"Liberation Sans", sans-serif' font-size="14" fill="#131722" font-weight="400" text-anchor="start" textLength="532.5" lengthAdjust="spacing">P/S ratio: Ten wskaźnik fundamentalny nie jest dostępny dla tego instrumentu.</text><text x="1305.3" y="694.3" font-family='"Liberation Sans", sans-serif' font-size="14" fill="#131722" font-weight="400" text-anchor="start" textLength="36.5" lengthAdjust="spacing">30,00</text><text x="1305.3" y="737.2" font-family='"Liberation Sans", sans-serif' font-size="14" fill="#131722" font-weight="400" text-anchor="start" textLength="36.5" lengthAdjust="spacing">20,00</text><text x="1305.3" y="780.3" font-family='"Liberation Sans", sans-serif' font-size="14" fill="#131722" font-weight="400" text-anchor="start" textLength="36.5" lengthAdjust="spacing">10,00</text><text x="84.5" y="836" font-family='"Liberation Sans", sans-serif' font-size="14" fill="#131722" font-weight="400" text-anchor="middle">Paź</text><text x="307.5" y="836" font-family='"Liberation Sans", sans-serif' font-size="14" fill="#131722" font-weight="400" text-anchor="middle">Lis</text><text x="492.5" y="836" font-family='"Liberation Sans", sans-serif' font-size="14" fill="#131722" font-weight="400" text-anchor="middle">Gru</text><text x="706.5" y="836" font-family='"Liberation Sans", sans-serif' font-size="14" fill="#131722" font-weight="700" text-anchor="middle" textLength="33" lengthAdjust="spacing">2026</text><text x="900.5" y="836" font-family='"Liberation Sans", sans-serif' font-size="14" fill="#131722" font-weight="400" text-anchor="middle">Lut</text><text x="1085.5" y="836" font-family='"Liberation Sans", sans-serif' font-size="14" fill="#131722" font-weight="400" text-anchor="middle">Mar</text><text x="62" y="894" font-family='"Liberation Sans", sans-serif' font-size="26" fill="#0f0f0f" font-weight="700" text-anchor="start" textLength="151" lengthAdjust="spacing">TradingView</text></svg>
</body></html>
